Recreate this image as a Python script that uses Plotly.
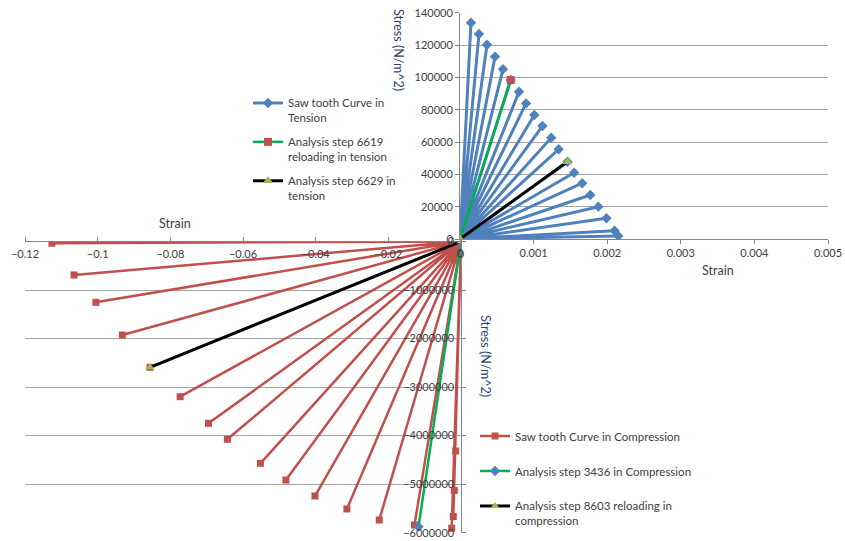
import plotly.graph_objects as go

# ---------------- data ----------------
# Tension saw-tooth tips (strain, stress N/m^2)
ten_strain = [0.000149, 0.000258, 0.000367, 0.000476, 0.000584, 0.000689, 0.000802,
              0.000897, 0.00101, 0.00112, 0.00124, 0.00134, 0.00146, 0.00155,
              0.00166, 0.00177, 0.00188, 0.00199, 0.00210, 0.00215]
ten_stress = [133800, 126800, 120200, 112800, 105000, 98400, 91100, 83900, 76700,
              69900, 62700, 55500, 47800, 41000, 34500, 27200, 20000, 12800, 5100, 1900]

# Compression saw-tooth tips
comp_strain = [-0.1126, -0.1065, -0.1005, -0.0932, -0.0856, -0.0773, -0.0695, -0.0643,
               -0.0552, -0.0482, -0.0402, -0.0314, -0.0225, -0.0128, -0.00256,
               -0.00212, -0.00184, -0.00146]
comp_stress = [-35000, -690000, -1253000, -1927000, -2592000, -3198000, -3746000,
               -4076000, -4570000, -4915000, -5244000, -5512000, -5739000, -5842000,
               -5910000, -5667000, -5131000, -4317000]

# Analysis steps
t6619_x = [0, 0.000689]
t6619_y = [0, 98400]
t6629_x = [0, 0.00146]
t6629_y = [0, 47800]
c3436_x = [0, -0.0117]
c3436_y = [0, -5877000]
c8603_x = [0, -0.0856]
c8603_y = [0, -2592000]

ORIGIN = 0


def sawtooth(xs, ys):
    px, py = [ORIGIN], [ORIGIN]
    for x, y in zip(xs, ys):
        px += [x, ORIGIN]
        py += [y, ORIGIN]
    return px, py


W, H = 845, 541
FONT = "Lato"
TXT = "#404040"
GRID = "#A6A6A6"
AX = "#868686"

def fx(p):
    return p / W

def fy(p):
    return 1 - p / H

fig = go.Figure()

# ---- compression (x, y) ----
cx, cy = sawtooth(comp_strain, comp_stress)
fig.add_trace(go.Scatter(x=cx, y=cy, mode="lines+markers", name="Saw tooth Curve in Compression",
                         line=dict(color="#C0504D", width=2.5),
                         marker=dict(symbol="square", size=7, color="#C0504D"),
                         legend="legend2", legendgroup="c1", xaxis="x", yaxis="y"))
fig.add_trace(go.Scatter(x=c3436_x, y=c3436_y, mode="lines+markers", name="Analysis step 3436 in Compression",
                         line=dict(color="#00B050", width=2.5),
                         marker=dict(symbol="diamond", size=8, color="#4F81BD"),
                         legend="legend2", legendgroup="c2", xaxis="x", yaxis="y"))
fig.add_trace(go.Scatter(x=c8603_x, y=c8603_y, mode="lines+markers", name="Analysis step 8603 reloading in<br>compression",
                         line=dict(color="#000000", width=3),
                         marker=dict(symbol="triangle-up", size=8, color="#9BBB59"),
                         legend="legend2", legendgroup="c3", xaxis="x", yaxis="y"))

# ---- tension (x2, y2) ----
tx, ty = sawtooth(ten_strain, ten_stress)
fig.add_trace(go.Scatter(x=tx, y=ty, mode="lines+markers", name="Saw tooth Curve in<br>Tension",
                         line=dict(color="#4F81BD", width=3),
                         marker=dict(symbol="diamond", size=8, color="#4F81BD"),
                         legend="legend", legendgroup="t1", xaxis="x2", yaxis="y2"))
fig.add_trace(go.Scatter(x=t6619_x, y=t6619_y, mode="lines+markers", name="Analysis step 6619<br>reloading in tension",
                         line=dict(color="#00B050", width=2.5),
                         marker=dict(symbol="square", size=8, color="#C0504D"),
                         legend="legend", legendgroup="t2", xaxis="x2", yaxis="y2"))
fig.add_trace(go.Scatter(x=t6629_x, y=t6629_y, mode="lines+markers", name="Analysis step 6629 in<br>tension",
                         line=dict(color="#000000", width=3),
                         marker=dict(symbol="triangle-up", size=9, color="#9BBB59"),
                         legend="legend", legendgroup="t3", xaxis="x2", yaxis="y2"))

tickfont = dict(family=FONT, size=11, color=TXT)

fig.update_layout(
    width=W, height=H,
    margin=dict(l=0, r=0, t=0, b=0, autoexpand=False),
    paper_bgcolor="white", plot_bgcolor="rgba(0,0,0,0)",
    font=dict(family=FONT, size=11, color=TXT),
    # compression axes
    xaxis=dict(domain=[fx(25), fx(461)], range=[-0.12, 0], dtick=0.02, side="top",
               anchor="y", ticklabelposition="inside", ticklabeloverflow="allow",
               ticklabelstandoff=8,
               ticks="outside", ticklen=4, tickcolor=AX, automargin=False,
               showline=True, linecolor=AX, linewidth=1, showgrid=False, zeroline=False,
               tickfont=tickfont),
    yaxis=dict(domain=[fy(532.7), fy(241.5)], range=[-6000000, 0], dtick=1000000, side="right",
               anchor="x", ticklabelposition="inside", ticklabeloverflow="allow",
               ticklabelstandoff=6,
               ticks="outside", ticklen=4, tickcolor=AX, tickformat="d", automargin=False,
               showline=True, linecolor=AX, linewidth=1, showgrid=True, gridcolor=GRID,
               gridwidth=1, zeroline=False, tickfont=tickfont),
    # tension axes
    xaxis2=dict(domain=[fx(460), fx(828)], range=[0, 0.005], dtick=0.001, anchor="y2",
                ticks="outside", ticklen=4, tickcolor=AX, automargin=False,
                showline=True, linecolor=AX, linewidth=1, showgrid=False, zeroline=False,
                tickfont=tickfont),
    yaxis2=dict(domain=[fy(239), fy(12.7)], range=[0, 140000], dtick=20000, anchor="x2",
                ticks="outside", ticklen=4, tickcolor=AX, tickformat="d", automargin=False,
                showline=True, linecolor=AX, linewidth=1, showgrid=True, gridcolor=GRID,
                gridwidth=1, zeroline=False, tickfont=tickfont),
    legend=dict(x=fx(248), y=fy(89), xanchor="left", yanchor="top", bgcolor="rgba(0,0,0,0)",
                font=dict(family=FONT, size=11.5, color=TXT), valign="top",
                tracegroupgap=6),
    legend2=dict(x=fx(475), y=fy(422), xanchor="left", yanchor="top", bgcolor="rgba(0,0,0,0)",
                 font=dict(family=FONT, size=11.5, color=TXT), valign="top",
                 tracegroupgap=16),
    annotations=[
        dict(text="Strain", x=fx(718), y=fy(270), xref="paper", yref="paper", showarrow=False,
             xanchor="center", yanchor="middle",
             font=dict(family=FONT, size=12.5, color=TXT)),
        dict(text="Strain", x=fx(175), y=fy(223), xref="paper", yref="paper", showarrow=False,
             xanchor="center", yanchor="middle",
             font=dict(family=FONT, size=12.5, color=TXT)),
        dict(text="Stress (N/m^2)", x=fx(399), y=fy(50), xref="paper", yref="paper", showarrow=False,
             xanchor="center", yanchor="middle",
             textangle=90, font=dict(family=FONT, size=12.5, color="#2B4470")),
        dict(text="Stress (N/m^2)", x=fx(486), y=fy(356), xref="paper", yref="paper", showarrow=False,
             xanchor="center", yanchor="middle",
             textangle=90, font=dict(family=FONT, size=12.5, color="#2B4470")),
    ],
)

fig.write_html("out.html", config={"displayModeBar": False},
               post_script="document.body.style.margin='0px';")
